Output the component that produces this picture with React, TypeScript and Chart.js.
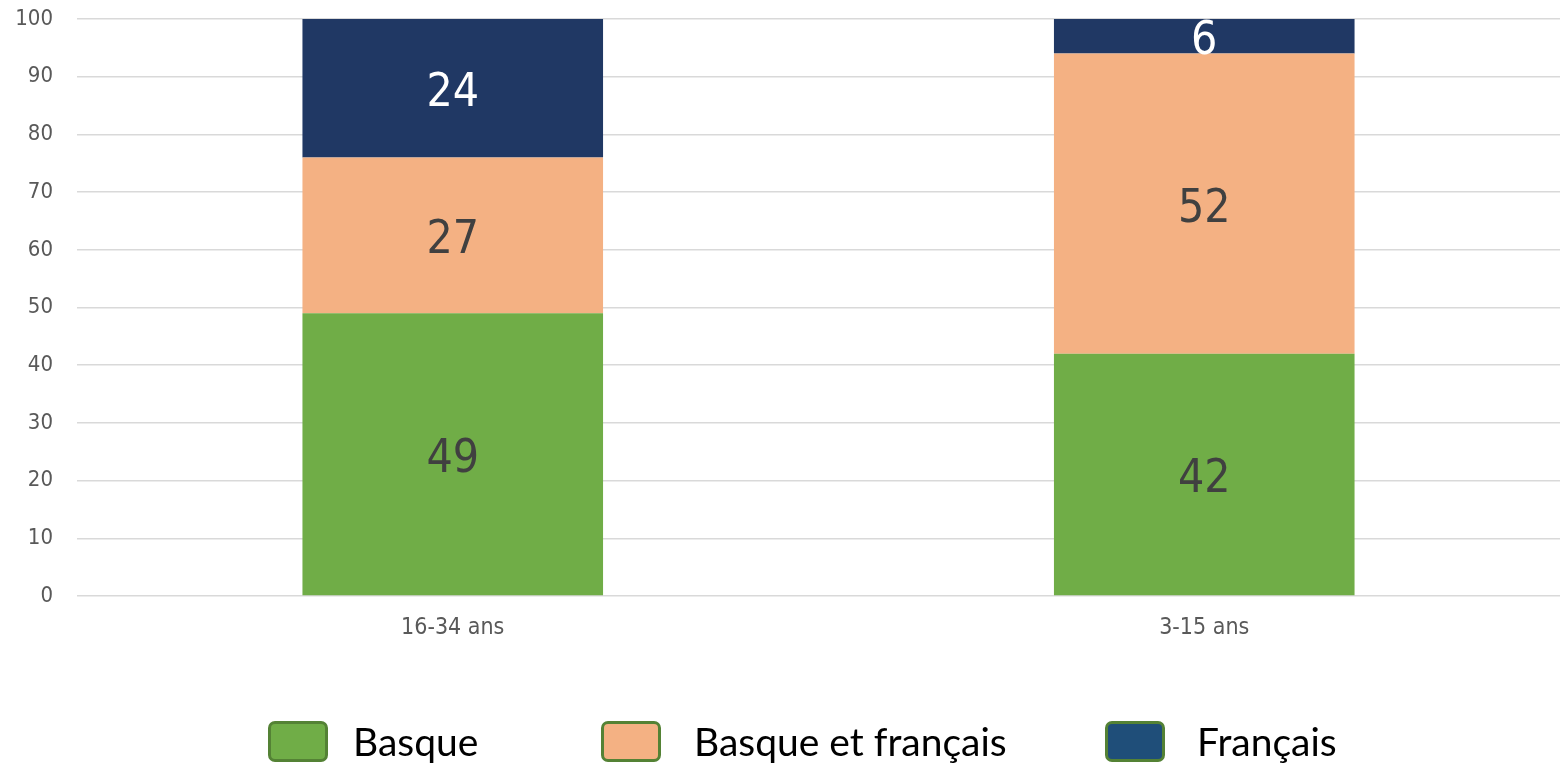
import React, { useEffect, useRef } from "react";
import { Chart, registerables } from "chart.js";

Chart.register(...registerables);

const categories = ["16-34 ans", "3-15 ans"];
const seriesNames = ["Basque", "Basque et français", "Français"];
const basque = [49, 42];
const basqueEtFrancais = [27, 52];
const francais = [24, 6];
const barColors = ["#70AD47", "#F4B183", "#203864"];
const legendColors = ["#70AD47", "#F4B183", "#1F4E79"];
const labelColors = ["#404040", "#404040", "#FFFFFF"];
const yMin = 0;
const yMax = 100;
const yStep = 10;

const tickFont = "'DejaVu Sans Condensed', 'DejaVu Sans', sans-serif";

const segLabels = {
  id: "segLabels",
  afterDatasetsDraw(chart: any) {
    const ctx = chart.ctx;
    chart.data.datasets.forEach((ds: any, i: number) => {
      const meta = chart.getDatasetMeta(i);
      meta.data.forEach((el: any, j: number) => {
        const v = ds.data[j];
        const p = el.getProps(["x", "y", "base"], true);
        ctx.save();
        ctx.font = `46px ${tickFont}`;
        ctx.fillStyle = labelColors[i];
        ctx.textAlign = "center";
        ctx.textBaseline = "middle";
        ctx.fillText(String(v), p.x, (p.y + p.base) / 2 + 6);
        ctx.restore();
      });
    });
  },
};

const legendLefts = [268, 601, 1105];
const legendGaps = [25, 33, 32];

export default function App() {
  const ref = useRef<HTMLCanvasElement | null>(null);

  useEffect(() => {
    if (!ref.current) return;
    const data = [basque, basqueEtFrancais, francais];
    const chart = new Chart(ref.current, {
      type: "bar",
      data: {
        labels: categories,
        datasets: data.map((d, i) => ({
          label: seriesNames[i],
          data: d,
          backgroundColor: barColors[i],
          borderWidth: 0,
          barPercentage: 0.4,
          categoryPercentage: 1,
        })),
      },
      options: {
        animation: false,
        responsive: false,
        devicePixelRatio: 1,
        layout: { padding: { top: 19, right: 0, left: 0, bottom: 111 } },
        plugins: {
          legend: { display: false },
          tooltip: { enabled: false },
        },
        scales: {
          x: {
            stacked: true,
            grid: { display: false, drawTicks: false },
            border: { display: false },
            ticks: {
              color: "#595959",
              font: { family: tickFont, size: 23 },
              padding: 18,
            },
            afterFit: (s: any) => {
              s.height = 60;
              s.paddingLeft = 0;
              s.paddingRight = 0;
            },
          },
          y: {
            stacked: true,
            min: yMin,
            max: yMax,
            grid: { color: "#D9D9D9", lineWidth: 1.5, drawTicks: false },
            border: { display: false },
            ticks: {
              stepSize: yStep,
              color: "#595959",
              font: { family: tickFont, size: 22 },
              padding: 24,
            },
            afterFit: (s: any) => {
              s.width = 77;
              s.paddingTop = 0;
              s.paddingBottom = 0;
            },
          },
        },
      },
      plugins: [segLabels],
    });
    return () => chart.destroy();
  }, []);

  return (
    <div
      style={{
        position: "fixed",
        left: 0,
        top: 0,
        width: 1560,
        height: 767,
        overflow: "hidden",
        background: "#fff",
      }}
    >
      <canvas ref={ref} width={1580} height={767} style={{ position: "absolute", left: 0, top: 0 }} />
      {seriesNames.map((name, i) => (
        <div
          key={name}
          style={{
            position: "absolute",
            left: legendLefts[i],
            top: 721,
            height: 41,
            display: "flex",
            alignItems: "center",
            whiteSpace: "nowrap",
          }}
        >
          <div
            style={{
              width: 60,
              height: 41,
              boxSizing: "border-box",
              background: legendColors[i],
              border: "3px solid #548235",
              borderRadius: 7,
            }}
          />
          <span
            style={{
              marginLeft: legendGaps[i],
              fontFamily: "Lato, 'Open Sans', sans-serif",
              fontSize: 39,
              color: "#000",
              lineHeight: 1.2,
            }}
          >
            {name}
          </span>
        </div>
      ))}
    </div>
  );
}
